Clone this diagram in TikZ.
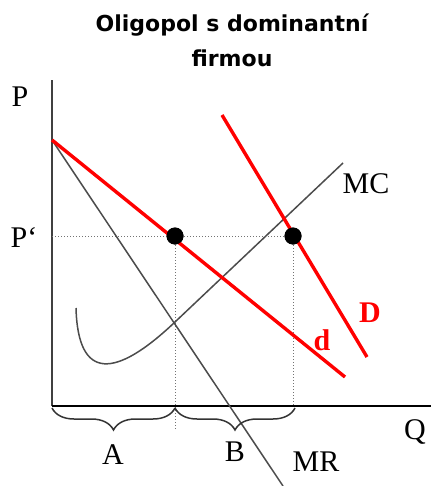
\documentclass[tikz,border=0pt]{standalone}
\usepackage{fontspec}
\setmainfont{Liberation Serif}
\newfontfamily\titlefont{DejaVu Sans}
\usetikzlibrary{decorations.pathreplacing,positioning}
\begin{document}
\begin{tikzpicture}[x=1pt,y=-1pt,
		axis/.style={line width=2pt},
		curve/.style={line width=1.5pt, black!70},
		redline/.style={line width=3.4pt, red},
		guide/.style={dotted, line width=1pt, black!55},
		bigdot/.style={circle, fill=black, inner sep=0pt, minimum size=17pt},
		lab/.style={font=\fontsize{30}{34}\selectfont},
		redlab/.style={font=\fontsize{30}{34}\selectfont\bfseries, text=red},
		curlybrace/.style={decorate, decoration={brace, mirror, amplitude=22pt, aspect=0.5}, line width=1.5pt, black!80}
		]
	\useasboundingbox (0,0) rectangle (431,486);
	% title
	\node[font=\titlefont\bfseries\fontsize{22}{26}\selectfont] (title1) at (232,25) {Oligopol s dominantní};
	\node[font=\titlefont\bfseries\fontsize{22}{26}\selectfont] (title2) at (232,58) {firmou};
	% axes
	\coordinate (O) at (52,406);
	\coordinate (ytop) at (52,80);
	\coordinate (xend) at (431,406);
	\draw[axis, black!75] (O) -- (ytop);
	\draw[axis] (O) -- (xend);
	\node[lab] (P) at (20,97) {P};
	\node[lab] (Pc) at (24,238) {P‘};
	\node[lab] (Q) at (415,432) {Q};
	% points
	\coordinate (pstart) at (52,140);
	\node[bigdot] (e1) at (175,236) {};
	\node[bigdot] (e2) at (293,236) {};
	\coordinate (Pl) at (52,236);
	\coordinate (b0) at (52,408);
	\coordinate (b1) at (175,408);
	\coordinate (b2) at (295,408);
	\coordinate (g1) at (175,430);
	\coordinate (g2) at (293,406);
	% dotted guides
	\draw[guide] (Pl) -- (e2.center);
	\draw[guide] (e1.center) -- (g1);
	\draw[guide] (e2.center) -- (g2);
	% MR and MC
	\coordinate (mrend) at (283,486);
	\coordinate (mcstart) at (76,308);
	\coordinate (mcx) at (175,322);
	\coordinate (mcend) at (343,163);
	\draw[curve] (pstart) -- (mrend);
	\draw[curve] (mcstart) .. controls (78,382) and (116,378) .. (mcx) -- (mcend);
	% demand curves
	\coordinate (dend) at (345,377);
	\coordinate (Dstart) at (222,115);
	\coordinate (Dend) at (367,357);
	\draw[redline] (pstart) -- (dend);
	\draw[redline] (Dstart) -- (Dend);
	\node[bigdot] at (e1) {};
	\node[bigdot] at (e2) {};
	% braces
	\draw[curlybrace] (b0) -- (b1);
	\draw[curlybrace] (b1) -- (b2);
	\node[lab] (A) at (113,455) {A};
	\node[lab] (B) at (235,452) {B};
	\node[lab] (MR) at (316,462) {MR};
	\node[lab] (MC) at (366,184) {MC};
	\node[redlab] (D) at (370,313) {D};
	\node[redlab] (d) at (322,340) {d};
\end{tikzpicture}
\end{document}
